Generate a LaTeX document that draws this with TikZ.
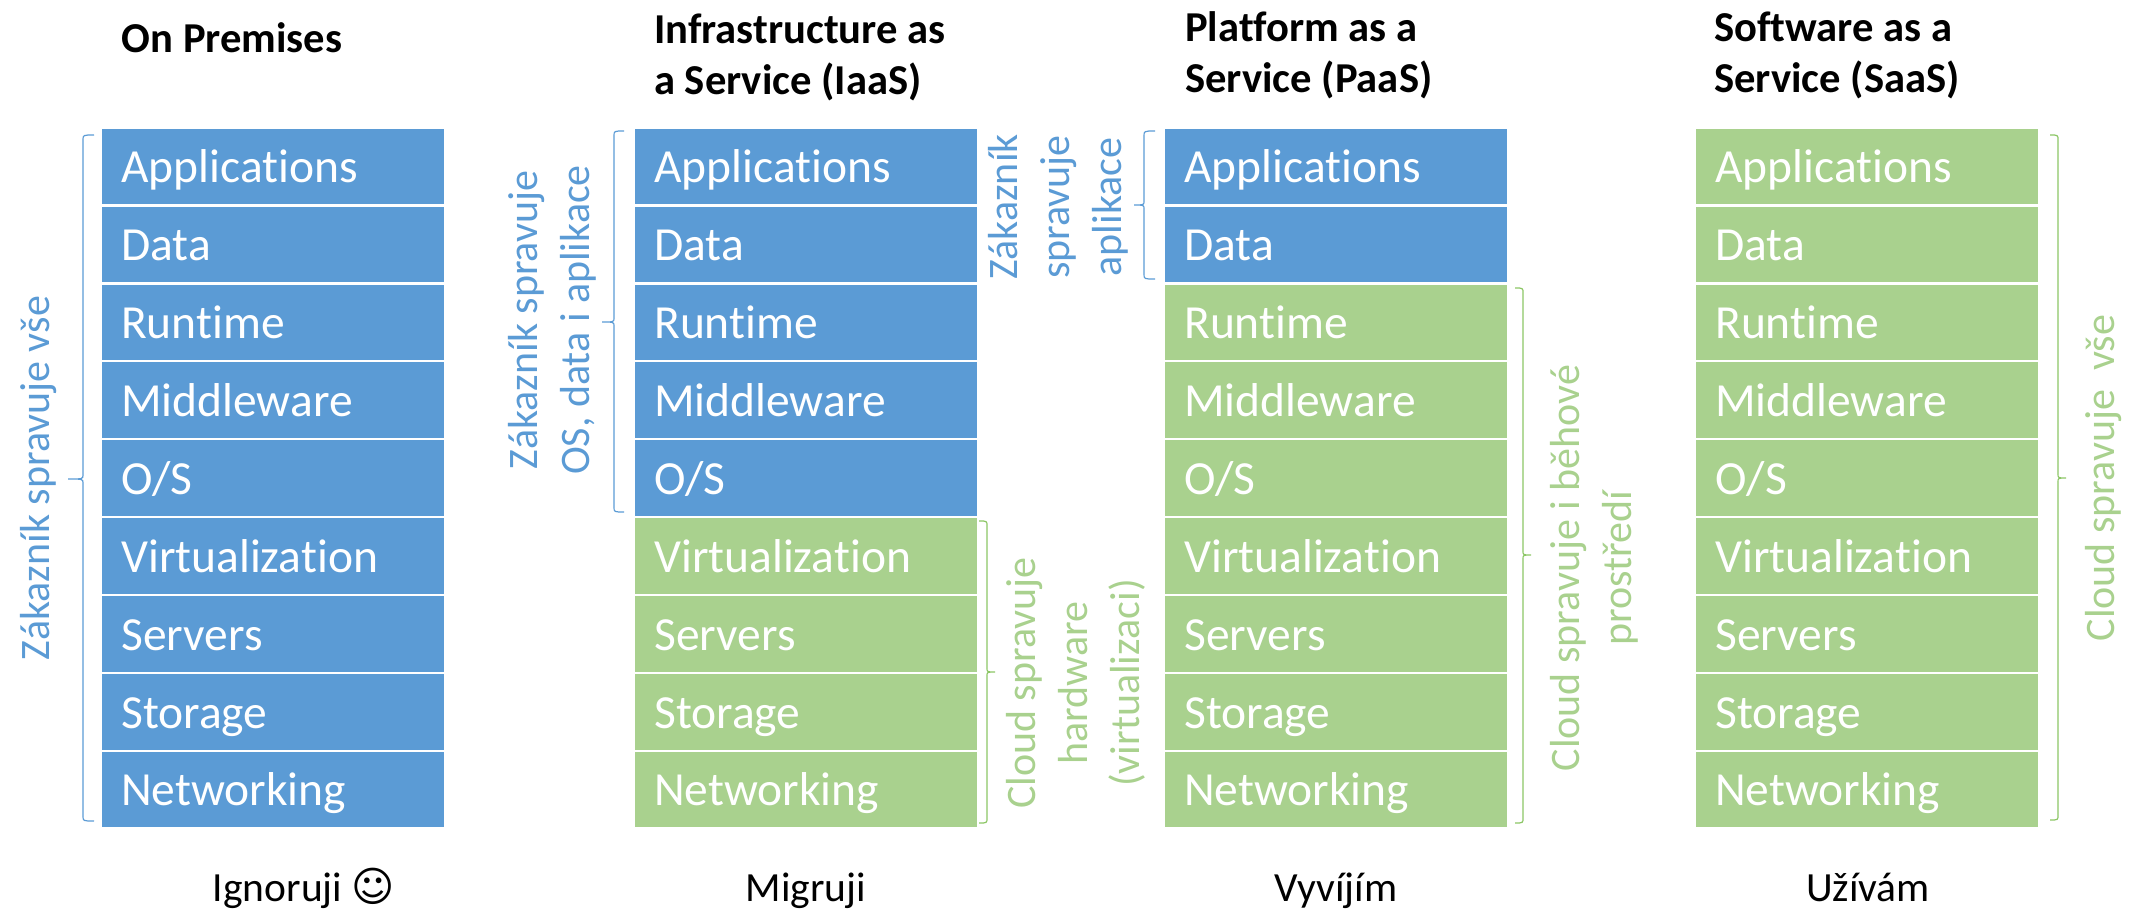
\documentclass[tikz,border=0pt]{standalone}
\usepackage{fontspec}
\setmainfont[Ligatures=NoCommon]{Carlito}
\newfontfamily\symfont{DejaVu Sans}
\definecolor{stackblue}{HTML}{5B9BD5}
\definecolor{stackgreen}{HTML}{A9D18E}
\definecolor{bracegreen}{HTML}{8CC665}
\tikzset{
  stackrow/.style={anchor=north west,minimum width=342pt,inner xsep=19pt,inner ysep=0pt,
    text width=304pt,align=left,text height=54pt,text depth=21.5pt,text=white,
    font=\fontsize{47.5}{50}\selectfont},
  stackrow1/.style={stackrow,fill=stackblue},
  stackrow0/.style={stackrow,fill=stackgreen},
  heading/.style={anchor=base west,inner sep=0pt,align=left,
    font=\fontsize{42.6}{51}\selectfont\bfseries},
  approach/.style={anchor=base,inner sep=0pt,font=\fontsize{41.5}{50}\selectfont},
  sidetext/.style={rotate=90,inner sep=0pt,align=center,font=\fontsize{42}{52}\selectfont},
}
\begin{document}
\begin{tikzpicture}[x=1pt,y=-1pt]
    \useasboundingbox (0,0) rectangle (2136,908);
    % the four stacks: left edge, number of rows the customer keeps
    \foreach \c/\colx/\nb in {1/102/9,2/635/5,3/1165/2,4/1696/0}{%
      \foreach \r/\lab [evaluate=\r as \own using {int(\r<=\nb)}] in
        {1/Applications,2/Data,3/Runtime,4/Middleware,5/O\slash S,6/Virtualization,7/Servers,8/Storage,9/Networking}{%
        \node[stackrow\own] (stack\c row\r) at (\colx,{128.5+77.9*(\r-1)}) {\lab};
      }
    }
    \node[heading] (headprem) at (121.5,52) {On Premises};
    \node[heading] (headiaas) at (654,94) {Infrastructure as\\a Service (IaaS)};
    \node[heading] (headpaas) at (1185,92) {Platform as a\\Service (PaaS)};
    \node[heading] (headsaas) at (1714,92) {Software as a\\Service (SaaS)};
    \node[approach] (useprem) at (304,901) {Ignoruji {\symfont ☺}};
    \node[approach] (useiaas) at (806,901) {Migruji};
    \node[approach] (usepaas) at (1336,901) {Vyvíjím};
    \node[approach] (usesaas) at (1868,901) {Užívám};
    % braces: end, spine, tip, top, middle, bottom
    \foreach \xe/\xb/\xt/\yt/\ym/\yb/\col in {%
      94/83/68/135/479/821/stackblue,
      624/614/602/131/322/512/stackblue,
      1155/1144/1134/131/205/279/stackblue,
      979/987/995/521/672/823/bracegreen,
      1515/1523/1531/288/555/823/bracegreen,
      2050/2058/2066/135/478/820/bracegreen}{%
      \draw[\col,line width=1.2pt] (\xe,\yt) .. controls (\xb,\yt) and (\xb,\yt) .. (\xb,\yt+5)
        -- (\xb,\ym-4) .. controls (\xb,\ym) and (\xb,\ym) .. (\xt,\ym)
        .. controls (\xb,\ym) and (\xb,\ym) .. (\xb,\ym+4)
        -- (\xb,\yb-5) .. controls (\xb,\yb) and (\xb,\yb) .. (\xe,\yb);
    }
    \node[sidetext,text=stackblue] (sideprem) at (39,478) {Zákazník spravuje vše};
    \node[sidetext,text=stackblue] (sideiaas) at (552,320) {Zákazník spravuje\\OS, data i aplikace};
    \node[sidetext,text=stackblue] (sidepaas) at (1058,207) {Zákazník\\spravuje\\aplikace};
    \node[sidetext,text=stackgreen] (cloudiaas) at (1076,683) {Cloud spravuje\\hardware\\(virtualizaci)};
    \node[sidetext,text=stackgreen] (cloudpaas) at (1594,568) {Cloud spravuje i běhové\\prostředí};
    \node[sidetext,text=stackgreen] (cloudsaas) at (2103,478) {Cloud spravuje\ \ vše};
\end{tikzpicture}
\end{document}
